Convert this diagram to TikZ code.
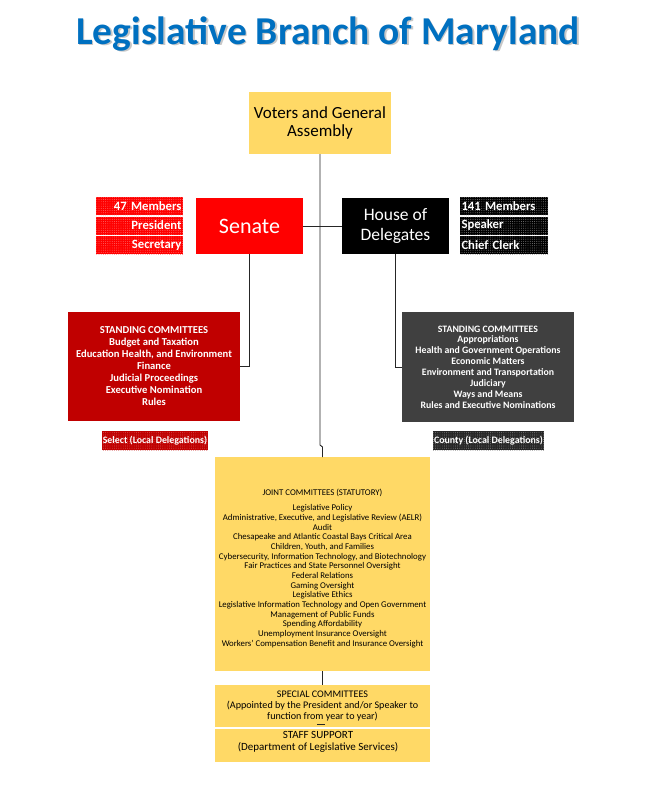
\documentclass[tikz,border=0pt]{standalone}
\usepackage{fontspec}
\setmainfont{Carlito}
\usetikzlibrary{patterns.meta}
\definecolor{ylw}{HTML}{FFD966}
\definecolor{dred}{HTML}{C00000}
\definecolor{dgry}{HTML}{404040}
\definecolor{ttl}{HTML}{0070C0}
\begin{document}
\begin{tikzpicture}[x=1pt,y=-1pt,
  box/.style={inner sep=0pt, outer sep=0pt, align=center},
  conn/.style={draw=black!85, line width=0.9pt},
  redtag/.style={box, fill=red, text=white, minimum width=87pt, minimum height=18pt,
     font=\bfseries\fontsize{12.7}{13}\selectfont, text width=84pt, align=right,
     postaction={pattern={Dots[distance=2.2pt,radius=0.45pt]}, pattern color=white!45!red}},
  blktag/.style={box, fill=black, text=white, minimum width=88pt, minimum height=18pt,
     font=\bfseries\fontsize{12.7}{13}\selectfont, text width=85pt, align=left,
     postaction={pattern={Dots[distance=2.2pt,radius=0.45pt]}, pattern color=black!45!white}},
  ]
\useasboundingbox (0,0) rectangle (650,787);
% title
\node[anchor=base, font=\bfseries\fontsize{39.5}{42}\selectfont, text=black!22] (titleshadow) at (329.5,45.5) {Legislative Branch of Maryland};
\node[anchor=base, font=\bfseries\fontsize{39.5}{42}\selectfont, text=ttl] (title) at (328,44) {Legislative Branch of Maryland};
% top
\node[box, fill=ylw, minimum width=142pt, minimum height=62pt, font=\fontsize{17}{18.5}\selectfont] (voters) at (320,123) {Voters and General\\Assembly};
\node[box, fill=red, text=white, minimum width=107pt, minimum height=56pt, font=\fontsize{22}{24}\selectfont] (senate) at (249.5,226) {Senate};
\node[box, fill=black, text=white, minimum width=107pt, minimum height=56pt, font=\fontsize{17.5}{19.5}\selectfont] (house) at (395.5,226) {House of\\Delegates};
% tags
\node[redtag] (smem) at (139.5,206) {47 Members};
\node[redtag] (spres) at (139.5,225.5) {President};
\node[redtag] (ssec) at (139.5,245) {Secretary};
\node[blktag] (hmem) at (504,206) {141 Members};
\node[blktag] (hspk) at (504,225.5) {Speaker};
\node[blktag] (hclk) at (504,245) {Chief Clerk};
% standing committees
\node[box, fill=dred, text=white, minimum width=172pt, minimum height=109pt, font=\bfseries\fontsize{10.6}{12}\selectfont] (lstd) at (154,366.5)
 {STANDING COMMITTEES\\Budget and Taxation\\Education Health, and Environment\\Finance\\Judicial Proceedings\\Executive Nomination\\Rules};
\node[box, fill=dgry, text=white, minimum width=172pt, minimum height=110pt, font=\bfseries\fontsize{9.8}{10.9}\selectfont] (rstd) at (488,367)
 {STANDING COMMITTEES\\Appropriations\\Health and Government Operations\\Economic Matters\\Environment and Transportation\\Judiciary\\Ways and Means\\Rules and Executive Nominations};
% local delegations
\node[box, fill=dred, text=white, minimum width=106pt, minimum height=19pt, font=\bfseries\fontsize{9.9}{11}\selectfont,
  postaction={pattern={Dots[distance=2.2pt,radius=0.45pt]}, pattern color=white!40!dred}] (select) at (155,440.5) {Select (Local Delegations)};
\node[box, fill=black!85, text=white, minimum width=111pt, minimum height=19pt, font=\bfseries\fontsize{9.9}{11}\selectfont,
  postaction={pattern={Dots[distance=2.2pt,radius=0.45pt]}, pattern color=black!40!white}] (county) at (488.5,440.5) {County (Local Delegations)};
% joint
\node[box, fill=ylw, minimum width=215pt, minimum height=214pt] (joint) at (322.5,564) {};
\node[box, font=\fontsize{8.8}{9.65}\selectfont] (jointtxt) at (322.5,568.5)
 {JOINT COMMITTEES (STATUTORY)\\[5.4pt]
  Legislative Policy\\
  Administrative, Executive, and Legislative Review (AELR)\\
  Audit\\
  Chesapeake and Atlantic Coastal Bays Critical Area\\
  Children, Youth, and Families\\
  Cybersecurity, Information Technology, and Biotechnology\\
  Fair Practices and State Personnel Oversight\\
  Federal Relations\\
  Gaming Oversight\\
  Legislative Ethics\\
  Legislative Information Technology and Open Government\\
  Management of Public Funds\\
  Spending Affordability\\
  Unemployment Insurance Oversight\\
  Workers' Compensation Benefit and Insurance Oversight};
% special and staff
\node[box, fill=ylw, minimum width=215pt, minimum height=42pt, font=\fontsize{10.1}{11}\selectfont] (special) at (322.5,706)
 {SPECIAL COMMITTEES\\(Appointed by the President and/or Speaker to\\function from year to year)};
\node[box, fill=ylw, minimum width=215pt, minimum height=33pt] (staff) at (322.5,745.5) {};
\node[box, font=\fontsize{11}{12}\selectfont] (stafftxt) at (318,741.5) {STAFF SUPPORT\\(Department of Legislative Services)};
% connectors
\coordinate (jog1) at (320,445);
\coordinate (jog2) at (322.5,447);
\draw[conn] (voters.south) -- (jog1) -- (jog2) -- (joint.north);
\draw[conn] (senate.east) -- (house.west);
\draw[conn] (senate.south) |- (lstd.east);
\draw[conn] (house.south) |- (rstd.west);
\draw[conn] (joint.south) -- (special.north);
\coordinate (da) at (317,724.5);
\coordinate (db) at (325,724.5);
\draw[conn, line width=0.7pt] (da) -- (db);
\end{tikzpicture}
\end{document}
